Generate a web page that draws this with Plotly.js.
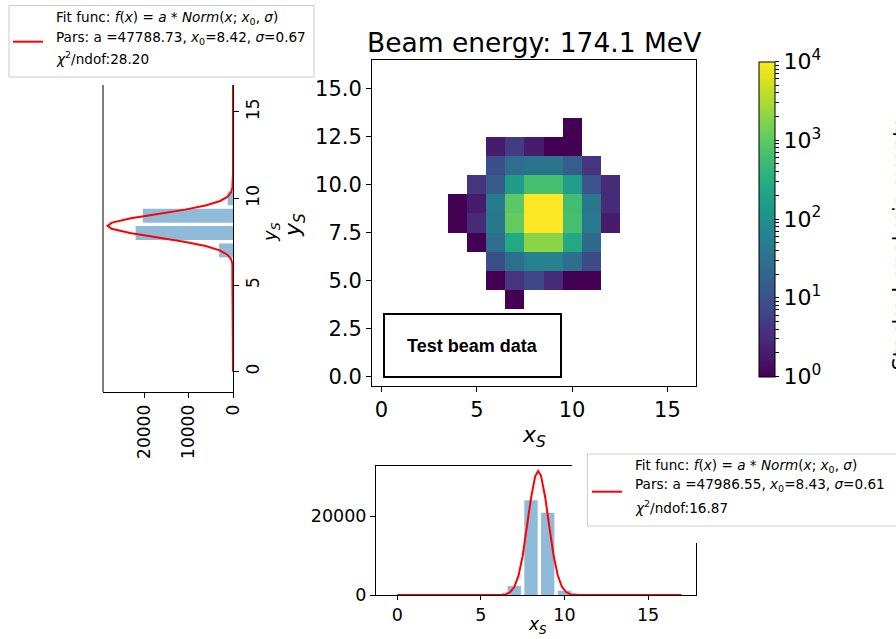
<!DOCTYPE html>
<html>
<head>
<meta charset="utf-8">
<script src="https://cdn.plot.ly/plotly-3.0.1.min.js"></script>
<style>html,body{margin:0;padding:0;background:#fff;}#chart{width:896px;height:639px;}</style>
</head>
<body>
<div id="chart"></div>
<script>
// ---------------- DATA ----------------
const binCenters = [0,1,2,3,4,5,6,7,8,9,10,11,12,13,14,15,16];

// 2D histogram cells (x bin, y bin, counts)
const cellX = [10, 6,7,8,9,10, 6,7,8,9,10,11, 5,6,7,8,9,10,11,12, 4,5,6,7,8,9,10,11,12, 4,5,6,7,8,9,10,11,12, 5,6,7,8,9,10,11, 6,7,8,9,10,11, 6,7,8,9,10,11, 7];
const cellY = [13, 12,12,12,12,12, 11,11,11,11,11,11, 10,10,10,10,10,10,10,10, 9,9,9,9,9,9,9,9,9, 8,8,8,8,8,8,8,8,8, 7,7,7,7,7,7,7, 6,6,6,6,6,6, 5,5,5,5,5,5, 4];
const cellCount = [1, 2,5,2,1,1, 9,25,35,35,15,4, 4,14,150,650,650,160,10,3, 1,2,45,1000,12000,12000,600,40,3, 1,3,40,1100,12000,12000,650,45,2, 1,27,250,2000,2000,250,22, 9,30,60,60,28,8, 1,4,7,3,1,1, 1];

// x_S projection (bottom panel)
const xProjBins = [7, 8, 9, 10];
const xProjCounts = [2300, 24000, 20800, 1100];
const xFitX = [0, 5, 6, 6.25, 6.5, 6.75, 7, 7.25, 7.5, 7.75, 8, 8.25, 8.43, 8.6, 8.85, 9.1, 9.35, 9.6, 9.85, 10.1, 10.3, 10.5, 11, 17];
const xFitY = [0, 0, 11, 53, 210, 708, 2010, 4830, 9820, 16860, 24480, 30050, 31380, 30190, 24760, 17170, 10070, 4990, 2090, 740, 285, 99, 4, 0];

// y_S projection (left panel)
const yProjBins = [7, 8, 9, 10];
const yProjCounts = [3150, 22100, 20450, 1220];
const yFitY = [0, 5, 5.5, 6, 6.25, 6.5, 6.75, 7, 7.25, 7.5, 7.75, 8, 8.25, 8.42, 8.6, 8.85, 9.1, 9.35, 9.6, 9.85, 10.1, 10.35, 10.6, 11, 11.5, 17];
const yFitV = [0, 0, 2, 42, 150, 469, 1274, 3012, 6195, 11086, 17260, 23380, 27550, 28456, 27446, 23160, 17003, 10862, 6033, 2920, 1229, 449, 143, 17, 1, 0];

// colour bar ticks (log10 of counts)
const cbMajor = [0, 1, 2, 3, 4];
const cbLabels = ['10<sup>0</sup>', '10<sup>1</sup>', '10<sup>2</sup>', '10<sup>3</sup>', '10<sup>4</sup>'];
const cbMinorMult = [2, 3, 4, 5, 6, 7, 8, 9];

const mainTicks = [0, 2.5, 5, 7.5, 10, 12.5, 15];
const mainTickText = ['0.0', '2.5', '5.0', '7.5', '10.0', '12.5', '15.0'];
const projTicks = [0, 5, 10, 15];
const countTicksLeft = [0, 10000, 20000];
const countTicksBottom = [0, 20000];

const titleText = 'Beam energy: 174.1 MeV';
const legendLeft = ['Fit func: <i>f</i>(<i>x</i>) = <i>a</i> * <i>Norm</i>(<i>x</i>; <i>x</i><sub>0</sub>, <i>σ</i>)',
  'Pars: a =47788.73, <i>x</i><sub>0</sub>=8.42, <i>σ</i>=0.67',
  '<i>χ</i><sup>2</sup>/ndof:28.20'];
const legendBottom = ['Fit func: <i>f</i>(<i>x</i>) = <i>a</i> * <i>Norm</i>(<i>x</i>; <i>x</i><sub>0</sub>, <i>σ</i>)',
  'Pars: a =47986.55, <i>x</i><sub>0</sub>=8.43, <i>σ</i>=0.61',
  '<i>χ</i><sup>2</sup>/ndof:16.87'];

// ---------------- BUILD ----------------
const W = 896, H = 639;
const px = x => x / W;
const py = y => 1 - y / H;
const FONT = 'DejaVu Sans';

const z = binCenters.map(() => binCenters.map(() => null));
cellX.forEach((cx, i) => { z[cellY[i]][cx] = Math.log10(cellCount[i]); });

let cbTickVals = [], cbTickText = [];
cbMajor.forEach((m, i) => {
  cbTickVals.push(m); cbTickText.push(cbLabels[i]);
  if (m < 4) cbMinorMult.forEach(k => { cbTickVals.push(m + Math.log10(k)); cbTickText.push(''); });
});

const BAR = 'rgba(31,119,180,0.5)';

const traces = [
  // left projection
  {type:'bar', orientation:'h', x: yProjCounts, y: yProjBins, width: 0.8, marker:{color: BAR, line:{width:0}}, xaxis:'x', yaxis:'y'},
  {type:'scatter', mode:'lines', x: yFitV, y: yFitY, line:{color:'#ff0000', width:2}, xaxis:'x', yaxis:'y'},
  // main heatmap
  {type:'heatmap', x: binCenters, y: binCenters, z: z, zmin: 0, zmax: 4, colorscale: 'Viridis', zsmooth: false,
   xaxis:'x2', yaxis:'y2',
   colorbar:{x: px(759), xanchor:'left', xref:'paper', thickness: 16, thicknessmode:'pixels',
     len: 315/H, lenmode:'fraction', y: py(219), yanchor:'middle', xpad:0, ypad:0,
     outlinewidth:1, outlinecolor:'#000', ticks:'outside', ticklen:4, tickcolor:'#000',
     tickvals: cbTickVals, ticktext: cbTickText, tickfont:{family:FONT, size:22, color:'#000'}}},
  // bottom projection
  {type:'bar', x: xProjBins, y: xProjCounts, width: 0.8, marker:{color: BAR, line:{width:0}}, xaxis:'x3', yaxis:'y3'},
  {type:'scatter', mode:'lines', x: xFitX, y: xFitY, line:{color:'#ff0000', width:2}, xaxis:'x3', yaxis:'y3'}
];

const axBase = {showgrid:false, zeroline:false, showline:true, linecolor:'#000', linewidth:1,
  ticks:'outside', ticklen:5, tickcolor:'#000', tickwidth:1};

const layout = {
  width: W, height: H, margin:{l:0, r:0, t:0, b:0}, showlegend:false,
  paper_bgcolor:'#fff', plot_bgcolor:'rgba(0,0,0,0)',
  font:{family: FONT, color:'#000'},
  // left panel
  xaxis: Object.assign({}, axBase, {domain:[px(103), px(233)], range:[29500, 0], anchor:'y',
    tickvals: countTicksLeft, ticktext: countTicksLeft.map(String), tickangle:-90, tickfont:{size:17}}),
  yaxis: Object.assign({}, axBase, {domain:[py(392), py(85)], range:[-1.17, 16.54], anchor:'x', side:'right',
    tickvals: projTicks, tickangle:-90, tickfont:{size:17}}),
  // main heatmap
  xaxis2: Object.assign({}, axBase, {domain:[px(372), px(696)], range:[-0.5, 16.5], anchor:'y2', mirror:true,
    tickvals: projTicks, tickfont:{size:21}}),
  yaxis2: Object.assign({}, axBase, {domain:[py(386), py(60)], range:[-0.5, 16.5], anchor:'x2', mirror:true,
    tickvals: mainTicks, ticktext: mainTickText, tickfont:{size:21}}),
  // bottom panel
  xaxis3: Object.assign({}, axBase, {domain:[px(376), px(696)], range:[-1.27, 17.87], anchor:'y3', mirror:true,
    tickvals: projTicks, ticklen:4, tickfont:{size:17.5}}),
  yaxis3: Object.assign({}, axBase, {domain:[py(595), py(466)], range:[0, 32660], anchor:'x3', mirror:true,
    tickvals: countTicksBottom, ticktext: countTicksBottom.map(String), tickfont:{size:17.5}}),
  shapes: [
    {type:'line', xref:'paper', yref:'paper', x0:px(103), x1:px(103), y0:py(392), y1:py(85), line:{color:'#000', width:1}},
    {type:'rect', xref:'paper', yref:'paper', x0:px(384), x1:px(561), y0:py(377), y1:py(314), line:{color:'#000', width:2}, fillcolor:'#fff', layer:'above'},
    {type:'rect', xref:'paper', yref:'paper', x0:px(9), x1:px(314), y0:py(77), y1:py(5.5), line:{color:'#cccccc', width:1}, fillcolor:'#fff', layer:'above'},
    {type:'line', xref:'paper', yref:'paper', x0:px(13), x1:px(43), y0:py(41.7), y1:py(41.7), line:{color:'#ff0000', width:2}, layer:'above'},
    {type:'rect', xref:'paper', yref:'paper', x0:px(572), x1:px(700), y0:py(543), y1:py(455), line:{width:0}, fillcolor:'#fff', layer:'above'},
    {type:'rect', xref:'paper', yref:'paper', x0:px(587.5), x1:px(905), y0:py(526), y1:py(454), line:{color:'#cccccc', width:1}, fillcolor:'#fff', layer:'above'},
    {type:'line', xref:'paper', yref:'paper', x0:px(592), x1:px(622), y0:py(491.7), y1:py(491.7), line:{color:'#ff0000', width:2}, layer:'above'}
  ],
  annotations: [
    {text: titleText, xref:'paper', yref:'paper', x:px(534), y:py(43), xanchor:'center', yanchor:'middle', showarrow:false, font:{size:26.5}},
    {text:'<b>Test beam data</b>', xref:'paper', yref:'paper', x:px(472.5), y:py(345.5), xanchor:'center', yanchor:'middle', showarrow:false, font:{family:'Liberation Sans', size:18}},
    {text:'<i>x</i><sub><i>S</i></sub>', xref:'paper', yref:'paper', x:px(534), y:py(436), xanchor:'center', yanchor:'middle', showarrow:false, font:{size:22}},
    {text:'<i>y</i><sub><i>S</i></sub>', xref:'paper', yref:'paper', x:px(295), y:py(225), xanchor:'center', yanchor:'middle', showarrow:false, textangle:-90, font:{size:22}},
    {text:'<i>y</i><sub><i>S</i></sub>', xref:'paper', yref:'paper', x:px(271), y:py(232), xanchor:'center', yanchor:'middle', showarrow:false, textangle:-90, font:{size:18}},
    {text:'<i>x</i><sub><i>S</i></sub>', xref:'paper', yref:'paper', x:px(537), y:py(639), xanchor:'center', yanchor:'bottom', showarrow:false, font:{size:17}},
    {text:'Stacked analysis events', xref:'paper', yref:'paper', x:px(900), y:py(373), xanchor:'center', yanchor:'bottom', showarrow:false, textangle:-90, font:{size:21}},
    {text: legendLeft[0], xref:'paper', yref:'paper', x:px(54), y:py(18.5), xanchor:'left', yanchor:'middle', showarrow:false, font:{size:13.6}},
    {text: legendLeft[1], xref:'paper', yref:'paper', x:px(54), y:py(38), xanchor:'left', yanchor:'middle', showarrow:false, font:{size:13.6}},
    {text: legendLeft[2], xref:'paper', yref:'paper', x:px(54), y:py(58.5), xanchor:'left', yanchor:'middle', showarrow:false, font:{size:13.6}},
    {text: legendBottom[0], xref:'paper', yref:'paper', x:px(633), y:py(466), xanchor:'left', yanchor:'middle', showarrow:false, font:{size:13.6}},
    {text: legendBottom[1], xref:'paper', yref:'paper', x:px(633), y:py(485), xanchor:'left', yanchor:'middle', showarrow:false, font:{size:13.6}},
    {text: legendBottom[2], xref:'paper', yref:'paper', x:px(633), y:py(506.5), xanchor:'left', yanchor:'middle', showarrow:false, font:{size:13.6}}
  ]
};

Plotly.newPlot('chart', traces, layout, {staticPlot:true, displayModeBar:false});
</script>
</body>
</html>
